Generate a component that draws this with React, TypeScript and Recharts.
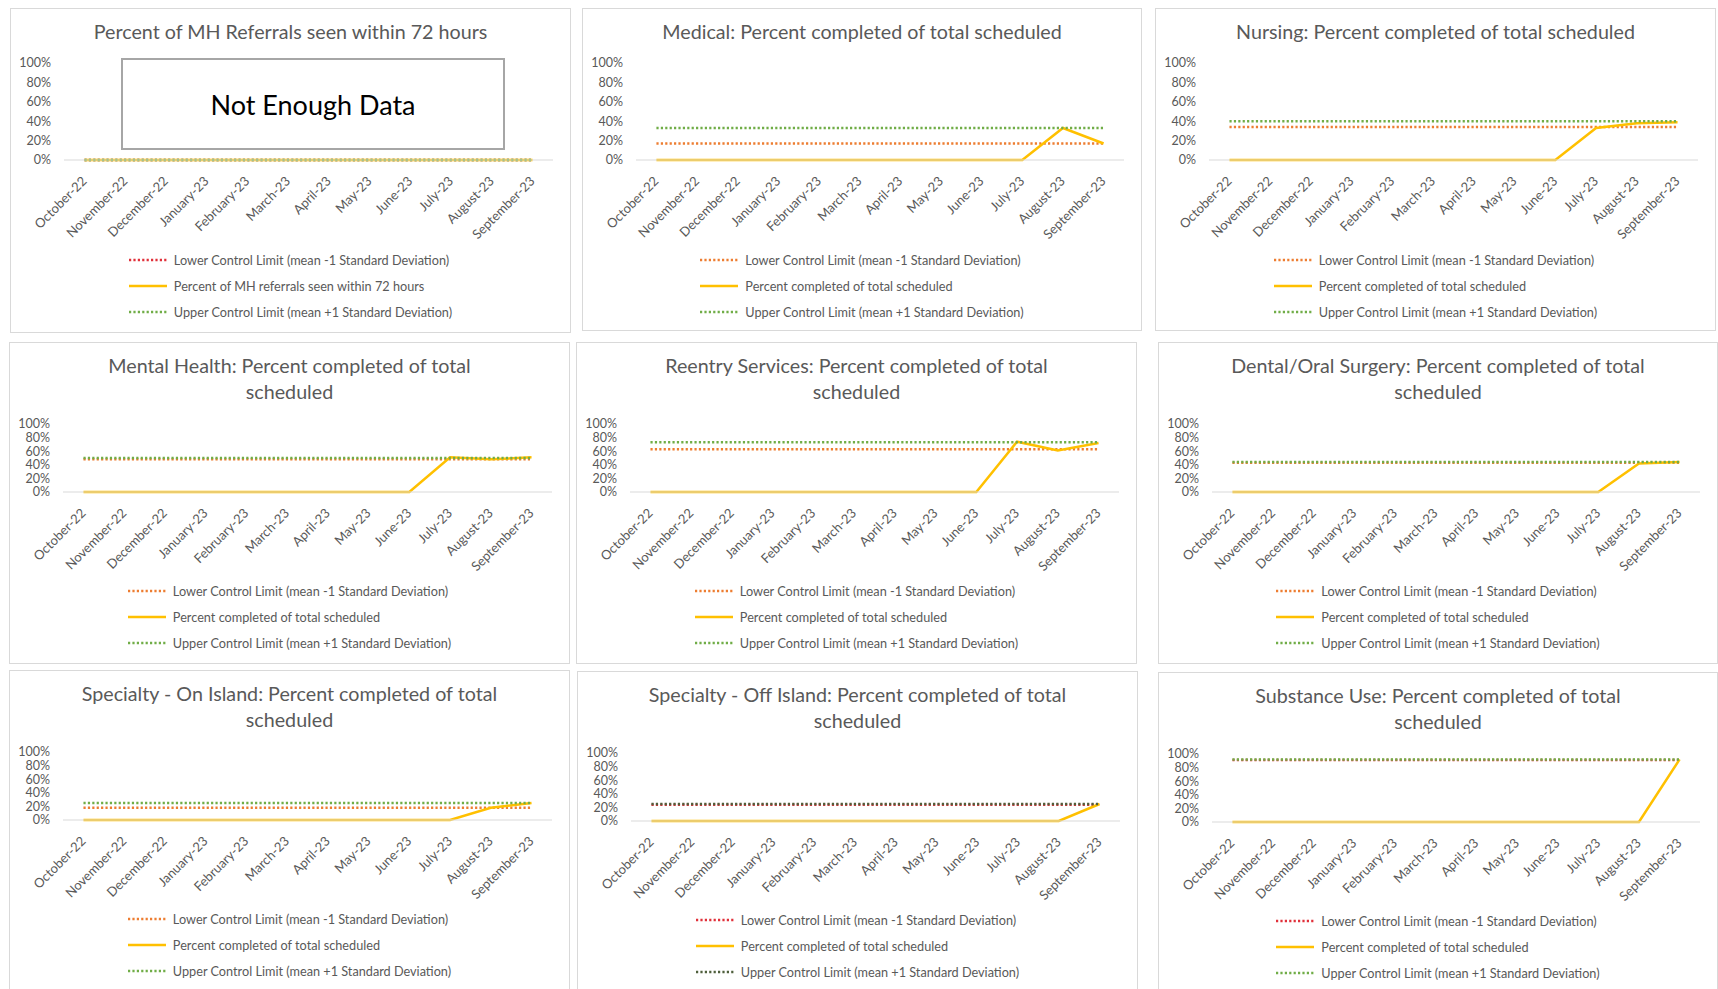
import React from 'react';
import { LineChart, Line, XAxis, YAxis, Legend } from 'recharts';

// ---------- categories & tick labels ----------
const months = [
  'October-22', 'November-22', 'December-22', 'January-23', 'February-23', 'March-23',
  'April-23', 'May-23', 'June-23', 'July-23', 'August-23', 'September-23',
];
const yTicks = [0, 20, 40, 60, 80, 100];

// ---------- series values (percent) ----------
const mhRefLcl = [0, 0, 0, 0, 0, 0, 0, 0, 0, 0, 0, 0];
const mhRefPct = [0, 0, 0, 0, 0, 0, 0, 0, 0, 0, 0, 0];
const mhRefUcl = [0, 0, 0, 0, 0, 0, 0, 0, 0, 0, 0, 0];

const medicalLcl = [17, 17, 17, 17, 17, 17, 17, 17, 17, 17, 17, 17];
const medicalPct = [0, 0, 0, 0, 0, 0, 0, 0, 0, 0, 33, 17];
const medicalUcl = [33, 33, 33, 33, 33, 33, 33, 33, 33, 33, 33, 33];

const nursingLcl = [34, 34, 34, 34, 34, 34, 34, 34, 34, 34, 34, 34];
const nursingPct = [0, 0, 0, 0, 0, 0, 0, 0, 0, 33, 38, 39];
const nursingUcl = [40, 40, 40, 40, 40, 40, 40, 40, 40, 40, 40, 40];

const mentalLcl = [48, 48, 48, 48, 48, 48, 48, 48, 48, 48, 48, 48];
const mentalPct = [0, 0, 0, 0, 0, 0, 0, 0, 0, 51, 48, 51];
const mentalUcl = [50, 50, 50, 50, 50, 50, 50, 50, 50, 50, 50, 50];

const reentryLcl = [63, 63, 63, 63, 63, 63, 63, 63, 63, 63, 63, 63];
const reentryPct = [0, 0, 0, 0, 0, 0, 0, 0, 0, 74, 61, 72];
const reentryUcl = [73, 73, 73, 73, 73, 73, 73, 73, 73, 73, 73, 73];

const dentalLcl = [43, 43, 43, 43, 43, 43, 43, 43, 43, 43, 43, 43];
const dentalPct = [0, 0, 0, 0, 0, 0, 0, 0, 0, 0, 42, 44];
const dentalUcl = [44, 44, 44, 44, 44, 44, 44, 44, 44, 44, 44, 44];

const onIslandLcl = [18, 18, 18, 18, 18, 18, 18, 18, 18, 18, 18, 18];
const onIslandPct = [0, 0, 0, 0, 0, 0, 0, 0, 0, 0, 18, 25];
const onIslandUcl = [25, 25, 25, 25, 25, 25, 25, 25, 25, 25, 25, 25];

const offIslandLcl = [24, 24, 24, 24, 24, 24, 24, 24, 24, 24, 24, 24];
const offIslandPct = [0, 0, 0, 0, 0, 0, 0, 0, 0, 0, 0, 25];
const offIslandUcl = [25, 25, 25, 25, 25, 25, 25, 25, 25, 25, 25, 25];

const substanceLcl = [91, 91, 91, 91, 91, 91, 91, 91, 91, 91, 91, 91];
const substancePct = [0, 0, 0, 0, 0, 0, 0, 0, 0, 0, 0, 92];
const substanceUcl = [92, 92, 92, 92, 92, 92, 92, 92, 92, 92, 92, 92];

// ---------- text ----------
const lclName = 'Lower Control Limit (mean -1 Standard Deviation)';
const uclName = 'Upper Control Limit (mean +1 Standard Deviation)';
const pctName = 'Percent completed of total scheduled';
const mhPctName = 'Percent of MH referrals seen within 72 hours';

// ---------- styles ----------
const FONT = 'Lato, "Open Sans", "Liberation Sans", sans-serif';
const TEXT = '#595959';
const GOLD = '#ffc000';
const ORANGE = '#ed7d31';
const RED = '#e0303a';
const GREEN = '#70ad47';
const DARKGREEN = '#4f5f3c';

type PanelCfg = {
  title: string[];
  left: number; top: number; w: number; h: number;
  lcl: number[]; pct: number[]; ucl: number[];
  pctName: string;
  lclColor: string; uclColor: string;
  notEnough?: boolean;
};

const panels: PanelCfg[] = [
  { title: ['Percent of MH Referrals seen within 72 hours'], left: 10, top: 8, w: 561, h: 325,
    lcl: mhRefLcl, pct: mhRefPct, ucl: mhRefUcl, pctName: mhPctName, lclColor: RED, uclColor: GREEN, notEnough: true },
  { title: ['Medical: Percent completed of total scheduled'], left: 582, top: 8, w: 560, h: 323,
    lcl: medicalLcl, pct: medicalPct, ucl: medicalUcl, pctName, lclColor: ORANGE, uclColor: GREEN },
  { title: ['Nursing: Percent completed of total scheduled'], left: 1155, top: 8, w: 561, h: 323,
    lcl: nursingLcl, pct: nursingPct, ucl: nursingUcl, pctName, lclColor: ORANGE, uclColor: GREEN },
  { title: ['Mental Health: Percent completed of total', 'scheduled'], left: 9, top: 342, w: 561, h: 322,
    lcl: mentalLcl, pct: mentalPct, ucl: mentalUcl, pctName, lclColor: ORANGE, uclColor: GREEN },
  { title: ['Reentry Services: Percent completed of total', 'scheduled'], left: 576, top: 342, w: 561, h: 322,
    lcl: reentryLcl, pct: reentryPct, ucl: reentryUcl, pctName, lclColor: ORANGE, uclColor: GREEN },
  { title: ['Dental/Oral Surgery: Percent completed of total', 'scheduled'], left: 1158, top: 342, w: 560, h: 322,
    lcl: dentalLcl, pct: dentalPct, ucl: dentalUcl, pctName, lclColor: ORANGE, uclColor: GREEN },
  { title: ['Specialty - On Island: Percent completed of total', 'scheduled'], left: 9, top: 670, w: 561, h: 325,
    lcl: onIslandLcl, pct: onIslandPct, ucl: onIslandUcl, pctName, lclColor: ORANGE, uclColor: GREEN },
  { title: ['Specialty - Off Island: Percent completed of total', 'scheduled'], left: 577, top: 671, w: 561, h: 325,
    lcl: offIslandLcl, pct: offIslandPct, ucl: offIslandUcl, pctName, lclColor: RED, uclColor: DARKGREEN },
  { title: ['Substance Use: Percent completed of total', 'scheduled'], left: 1158, top: 672, w: 560, h: 325,
    lcl: substanceLcl, pct: substancePct, ucl: substanceUcl, pctName, lclColor: RED, uclColor: GREEN },
];

const LEGEND_ROW = 26;
const LEGEND_H = LEGEND_ROW * 3;
const XAXIS_H = 30;

const XTick = (props: any) => {
  const { x, y, payload } = props;
  const cx = x - 3.5;
  const cy = y + 15.5;
  return (
    <text
      x={cx}
      y={cy}
      dy="0.71em"
      transform={`rotate(-45, ${cx}, ${cy})`}
      textAnchor="end"
      fontSize={13}
      fontFamily={FONT}
      fill={TEXT}
    >
      {payload.value}
    </text>
  );
};

const LegendContent = (props: any) => {
  const payload = props.payload || [];
  return (
    <div style={{ width: '100%', height: LEGEND_H, display: 'flex', justifyContent: 'center' }}>
      <div style={{ display: 'flex', flexDirection: 'column' }}>
        {payload.map((e: any) => (
          <div key={e.dataKey} style={{ height: LEGEND_ROW, display: 'flex', alignItems: 'center' }}>
            <svg width={38} height={6} style={{ display: 'block' }}>
              <line
                x1={0} y1={3} x2={38} y2={3}
                stroke={e.color}
                strokeWidth={2.5}
                strokeDasharray={e.dataKey === 'pct' ? undefined : '2.2 2.2'}
              />
            </svg>
            <span style={{ marginLeft: 7, fontSize: 12.7, color: TEXT, fontFamily: FONT, whiteSpace: 'nowrap' }}>
              {e.value}
            </span>
          </div>
        ))}
      </div>
    </div>
  );
};

const Panel = ({ cfg }: { cfg: PanelCfg }) => {
  const twoLine = cfg.title.length > 1;
  const plotTop = twoLine ? 81 : 54;
  const plotBottom = twoLine ? 151 : 153;
  const plotLeft = 53;
  const plotRight = cfg.w - 17;
  const legendTop = twoLine ? 235 : 238;
  const half = (plotRight - plotLeft) / 24;
  const data = months.map((m, i) => ({ month: m, lcl: cfg.lcl[i], pct: cfg.pct[i], ucl: cfg.ucl[i] }));
  const bottomMargin = cfg.h - plotBottom - XAXIS_H - LEGEND_H;

  return (
    <div
      style={{
        position: 'absolute', left: cfg.left, top: cfg.top, width: cfg.w, height: cfg.h,
        border: '1px solid #d9d9d9', boxSizing: 'border-box', background: '#fff', overflow: 'hidden',
      }}
    >
      <div
        style={{
          position: 'absolute', left: 0, top: 10, width: '100%', textAlign: 'center',
          fontFamily: FONT, fontSize: 19.7, lineHeight: '26px', color: TEXT, whiteSpace: 'nowrap',
        }}
      >
        {cfg.title.map((t) => (
          <div key={t}>{t}</div>
        ))}
      </div>
      <div style={{ position: 'absolute', left: 0, top: 0 }}>
        <LineChart
          width={cfg.w - 2}
          height={cfg.h - 2}
          data={data}
          margin={{ top: plotTop, right: cfg.w - plotRight, bottom: bottomMargin, left: 0 }}
        >
          <XAxis
            dataKey="month"
            interval={0}
            height={XAXIS_H}
            tickLine={false}
            tickSize={0}
            tickMargin={0}
            axisLine={{ stroke: '#d9d9d9', strokeWidth: 1 }}
            padding={{ left: half, right: half }}
            tick={<XTick />}
          />
          <YAxis
            width={plotLeft}
            domain={[0, 100]}
            ticks={yTicks}
            interval={0}
            axisLine={false}
            tickLine={false}
            tickSize={6}
            tickMargin={7}
            tickFormatter={(v: number) => `${v}%`}
            tick={{ fontSize: 12.5, fill: TEXT, fontFamily: FONT }}
          />
          <Legend
            layout="vertical"
            verticalAlign="bottom"
            align="center"
            content={<LegendContent />}
            wrapperStyle={{ top: legendTop, left: 0, bottom: 'auto', width: cfg.w - 2, height: LEGEND_H }}
          />
          <Line
            type="linear"
            dataKey="lcl"
            name={lclName}
            stroke={cfg.lclColor}
            strokeWidth={2.5}
            strokeDasharray="2.2 2.2"
            dot={false}
            activeDot={false}
            isAnimationActive={false}
          />
          <Line
            type="linear"
            dataKey="pct"
            name={cfg.pctName}
            stroke={GOLD}
            strokeWidth={2.5}
            dot={false}
            activeDot={false}
            isAnimationActive={false}
          />
          <Line
            type="linear"
            dataKey="ucl"
            name={uclName}
            stroke={cfg.uclColor}
            strokeWidth={2.5}
            strokeDasharray="2.2 2.2"
            dot={false}
            activeDot={false}
            isAnimationActive={false}
          />
        </LineChart>
      </div>
      {cfg.notEnough && (
        <div
          style={{
            position: 'absolute', left: 110, top: 49, width: 384, height: 92, boxSizing: 'border-box',
            border: '2px solid #a6a6a6', background: '#fff', display: 'flex', alignItems: 'center',
            justifyContent: 'center', fontFamily: FONT, fontSize: 27, color: '#000',
          }}
        >
          Not Enough Data
        </div>
      )}
    </div>
  );
};

export default function App() {
  return (
    <div style={{ position: 'absolute', left: 0, top: 0, width: 1718, height: 989, background: '#fff', overflow: 'hidden' }}>
      {panels.map((p) => (
        <Panel key={p.title.join(' ')} cfg={p} />
      ))}
    </div>
  );
}
